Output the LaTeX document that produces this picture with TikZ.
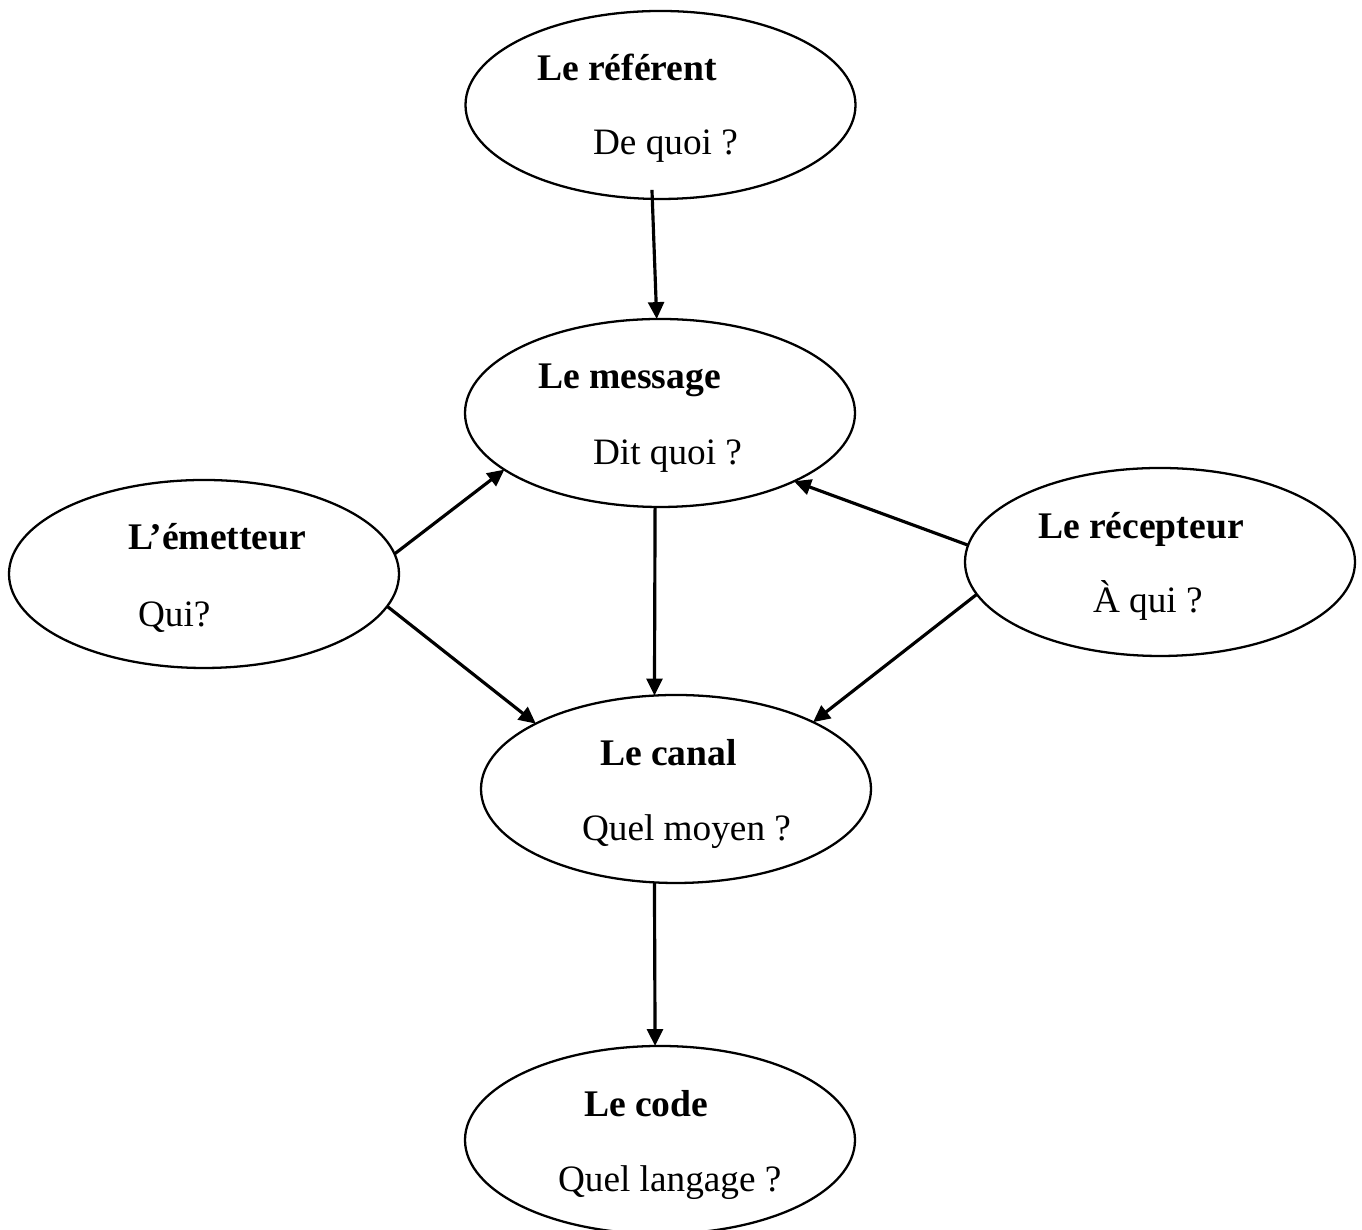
\documentclass[tikz,border=0pt]{standalone}
\usepackage{fontspec}
\setmainfont{Liberation Serif}
\usepackage{tikz}
\usetikzlibrary{shapes.geometric,arrows.meta}

\begin{document}
\begin{tikzpicture}[inner sep=0,outer sep=0,
    bulle/.style={ellipse, draw, line width=0.65pt, minimum width=3.9cm, minimum height=1.88cm},
    titre/.style={anchor=base west, font=\fontsize{10.7}{12}\selectfont\bfseries},
    question/.style={anchor=base west, font=\fontsize{10.6}{12}\selectfont},
    fleche/.style={-{Triangle[length=4.8pt,width=4.5pt]}, line width=0.9pt}]

        \useasboundingbox (0,0) rectangle (13.62,12.30);

        % les bulles
        \node [bulle] (ref) at (6.605,11.25) {};
        \node [bulle] (mess) at (6.60,8.17) {};
        \node [bulle] (emet) at (2.04,6.56) {};
        \node [bulle] (recep) at (11.60,6.68) {};
        \node [bulle] (canal) at (6.76,4.41) {};
        \node [bulle] (code) at (6.60,0.90) {};

        % les textes
        \node [titre] (refT) at (5.37,11.49) {Le référent};
        \node [question] (refQ) at (5.93,10.75) {De quoi ?};
        \node [titre] (messT) at (5.38,8.41) {Le message};
        \node [question] (messQ) at (5.93,7.65) {Dit quoi ?};
        \node [titre] (emetT) at (1.28,6.80) {L’émetteur};
        \node [question] (emetQ) at (1.38,6.03) {Qui?};
        \node [titre] (recepT) at (10.38,6.91) {Le récepteur};
        \node [question] (recepQ) at (10.93,6.17) {À qui ?};
        \node [titre] (canalT) at (6.00,4.64) {Le canal};
        \node [question] (canalQ) at (5.82,3.89) {Quel moyen ?};
        \node [titre] (codeT) at (5.84,1.13) {Le code};
        \node [question] (codeQ) at (5.58,0.38) {Quel langage ?};

        % les fleches
        \draw [fleche, shorten <=-0.09cm] (ref.265) -- (mess.92);
        \draw [fleche] (emet.6) -- (mess.200);
        \draw [fleche] (emet.350) -- (canal.155);
        \draw [fleche] (mess.267) -- (canal.103);
        \draw [fleche] (recep.175) -- (mess.333);
        \draw [fleche] (recep.190) -- (canal.26);
        \draw [fleche] (canal.257) -- (code.93);

\end{tikzpicture}
\end{document}
